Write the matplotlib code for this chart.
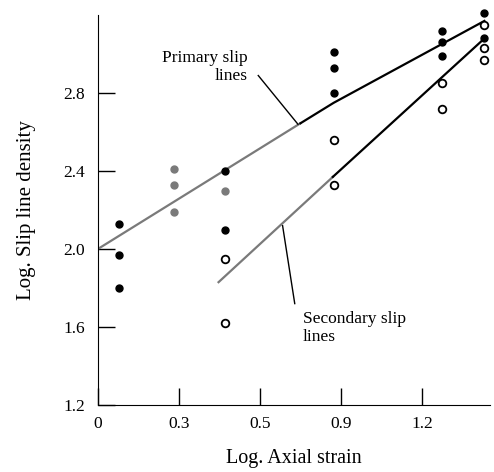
import matplotlib.pyplot as plt

plt.rcParams['font.family'] = ['Liberation Serif', 'DejaVu Serif']

# x positions are in tick units (ticks evenly spaced, labelled below)
x_tick_pos = [0, 1, 2, 3, 4]
x_tick_labels = ["0", "0.3", "0.5", "0.9", "1.2"]
y_ticks = [1.2, 1.6, 2.0, 2.4, 2.8]

# primary slip lines (filled dots)
prim_black_x = [0.26, 0.26, 0.26, 1.57, 1.57, 2.91, 2.91, 2.91, 4.25, 4.25, 4.25, 4.77, 4.77]
prim_black_y = [2.13, 1.97, 1.80, 2.40, 2.10, 3.01, 2.93, 2.80, 3.12, 3.06, 2.99, 3.21, 3.08]
prim_gray_x = [0.94, 0.94, 0.94, 1.57]
prim_gray_y = [2.41, 2.33, 2.19, 2.30]

# secondary slip lines (open circles)
sec_x = [1.57, 1.57, 2.91, 2.91, 4.25, 4.25, 4.77, 4.77, 4.77]
sec_y = [1.95, 1.62, 2.56, 2.33, 2.85, 2.72, 3.15, 3.03, 2.97]

# fitted lines
prim_line_x = [0.0, 2.5, 2.91, 4.77]
prim_line_y = [2.0, 2.645, 2.75, 3.17]
sec_line_x = [1.49, 2.9, 4.77]
sec_line_y = [1.83, 2.37, 3.08]

fig = plt.figure(figsize=(4.94, 4.72), dpi=100)
ax = fig.add_axes([0.198, 0.142, 0.794, 0.826])

gray = "#7a7a7a"
ax.plot(prim_line_x[:2], prim_line_y[:2], color=gray, lw=1.6)
ax.plot(prim_line_x[1:], prim_line_y[1:], color="black", lw=1.6)
ax.plot(sec_line_x[:2], sec_line_y[:2], color=gray, lw=1.6)
ax.plot(sec_line_x[1:], sec_line_y[1:], color="black", lw=1.6)

ax.plot(prim_black_x, prim_black_y, "o", color="black", ms=5, ls="none", clip_on=False)
ax.plot(prim_gray_x, prim_gray_y, "o", color=gray, ms=5, ls="none")
ax.plot(sec_x, sec_y, "o", mfc="white", mec="black", mew=1.3, ms=5.5, ls="none",
        clip_on=False)

# leaders and labels
ax.plot([1.98, 2.47], [2.89, 2.64], color="black", lw=1)
ax.text(1.85, 2.935, "Primary slip\nlines", ha="right", va="center",
        fontsize=12.5, linespacing=1.15)
ax.plot([2.28, 2.43], [2.12, 1.72], color="black", lw=1)
ax.text(2.53, 1.595, "Secondary slip\nlines", ha="left", va="center",
        fontsize=12.5, linespacing=1.15)

ax.set_xlim(0, 4.84)
ax.set_ylim(1.2, 3.2)
ax.set_xticks(x_tick_pos)
ax.set_xticklabels(x_tick_labels)
ax.set_yticks(y_ticks)
ax.set_yticklabels([f"{v:.1f}" for v in y_ticks])
ax.tick_params(direction="in", length=12, width=1, labelsize=12.5, pad=8)
ax.tick_params(axis="y", pad=9)
ax.spines["top"].set_visible(False)
ax.spines["right"].set_visible(False)
ax.set_xlabel("Log. Axial strain", fontsize=14.5, labelpad=12)
ax.set_ylabel("Log. Slip line density", fontsize=15, labelpad=20)

fig.savefig("out.png", dpi=100)
